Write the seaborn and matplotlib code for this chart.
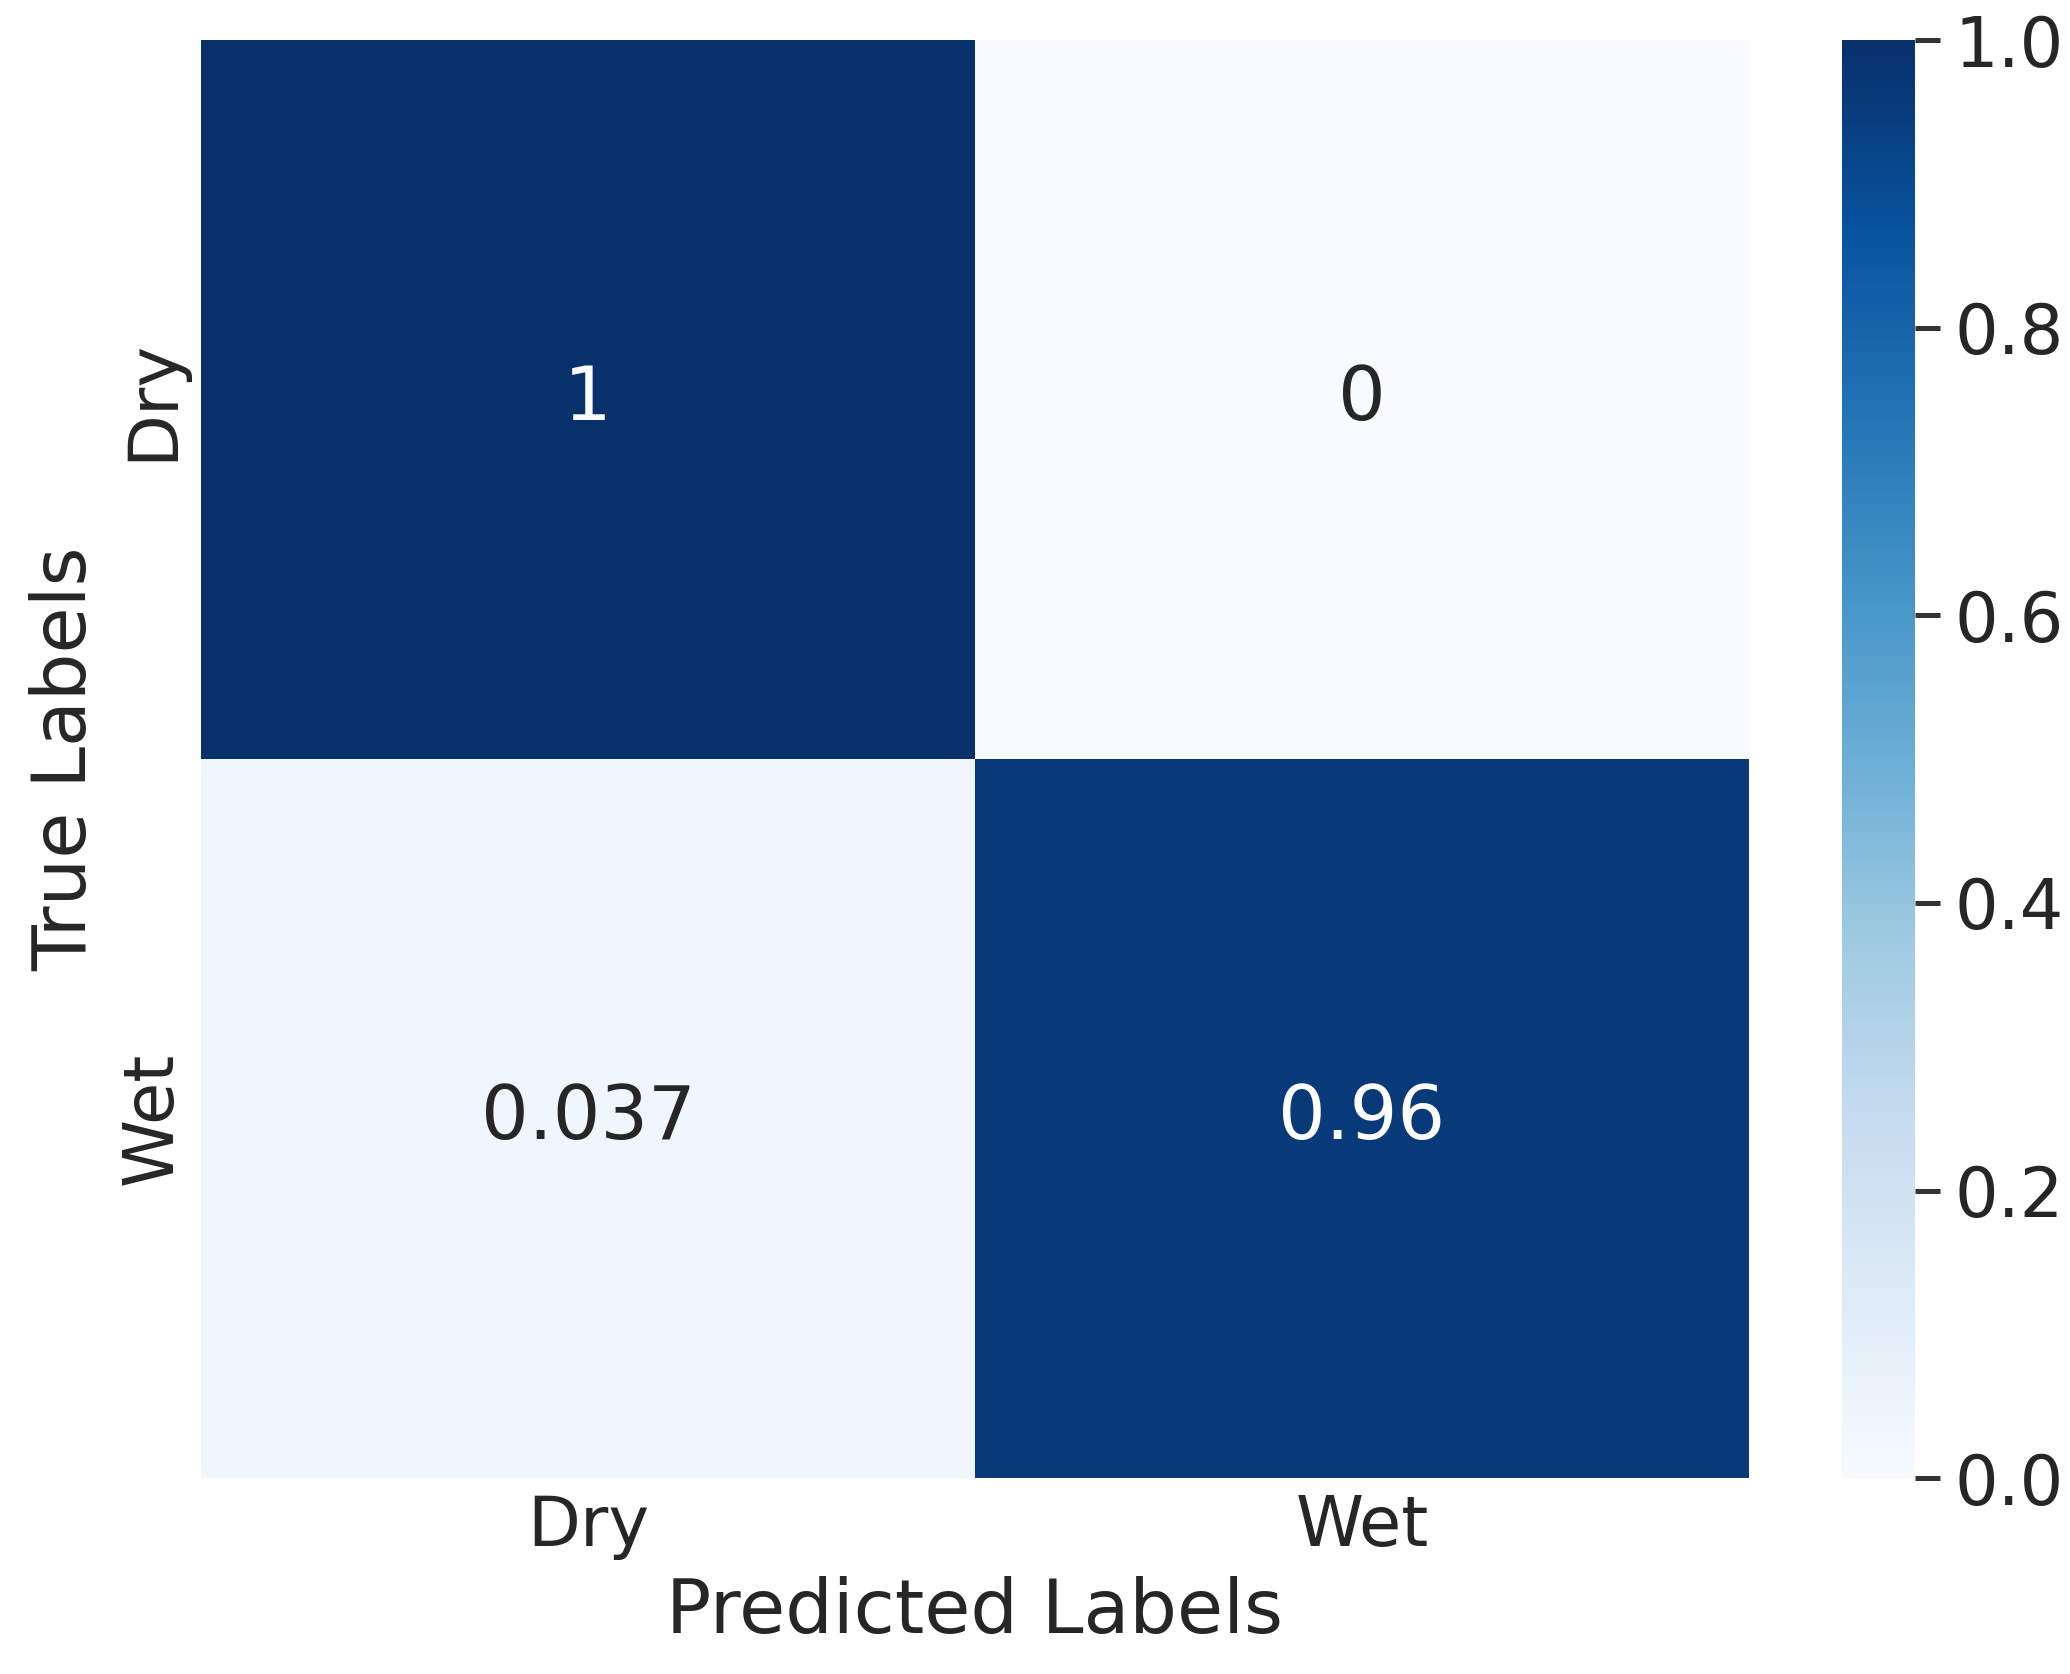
import numpy as np
import pandas as pd
import matplotlib
matplotlib.use("Agg")
import matplotlib.pyplot as plt
import seaborn as sns

labels = ["Dry", "Wet"]
dry_row = [1.0, 0.0]
wet_row = [0.037, 0.963]

cm = pd.DataFrame([dry_row, wet_row], index=labels, columns=labels)

sns.set_theme(style="white", font_scale=1.5)
fig = plt.figure(figsize=(6.9, 5.58), dpi=300)
ax = fig.add_axes([0.097, 0.117, 0.748, 0.859])
cax = fig.add_axes([0.89, 0.117, 0.035, 0.859])

sns.heatmap(cm, annot=True, cmap="Blues", vmin=0, vmax=1, ax=ax, cbar_ax=cax)
ax.set_xlabel("Predicted Labels")
ax.set_ylabel("True Labels")
ax.tick_params(length=0)
cax.tick_params(length=6, width=1.2, color="#333333")
cax.set_yticks([0, 0.2, 0.4, 0.6, 0.8, 1.0])

fig.savefig("out.png", dpi=300)
